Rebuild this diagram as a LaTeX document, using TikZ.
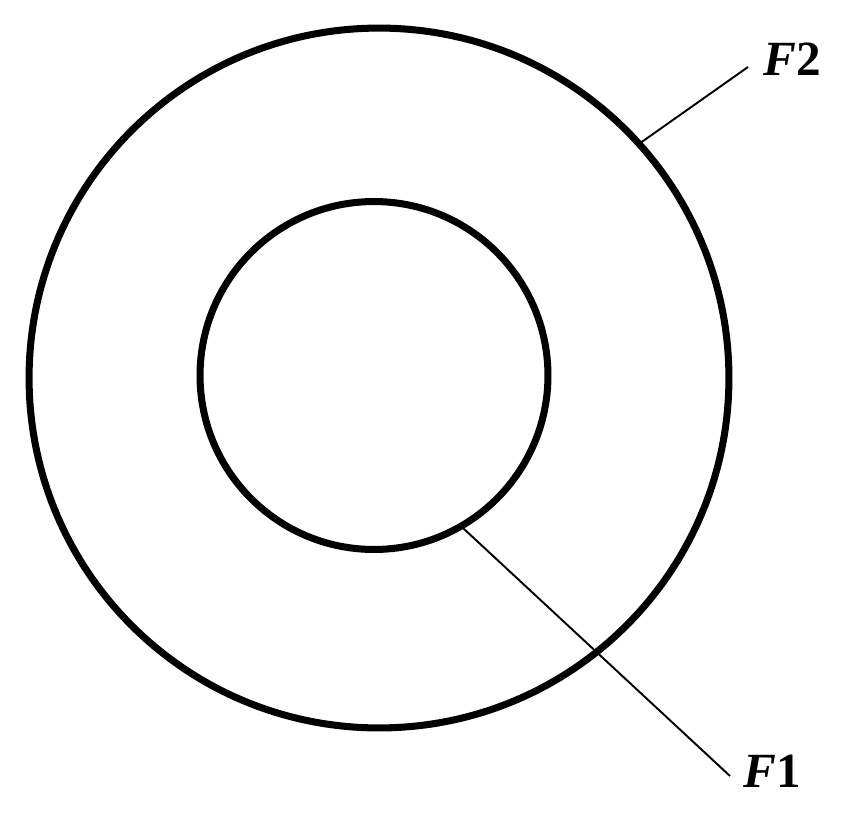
\documentclass[tikz,border=0pt]{standalone}
\usepackage{fontspec}
\setmainfont{Liberation Serif}
\usepackage{tikz}

\tikzset{
  ring/.style={draw, circle, line width=4pt, inner sep=0pt, outer sep=0pt},
  leader/.style={line width=1.1pt},
  flabel/.style={inner sep=0pt, font=\fontsize{28}{30}\selectfont\bfseries}
}

\begin{document}
\begin{tikzpicture}[x=0.02cm, y=-0.02cm]
         \useasboundingbox (0,0) rectangle (848,812);
         \node (outer) [ring, minimum size=14cm] at (379, 378) {};
         \node (inner) [ring, minimum size=6.96cm] at (374, 375.5) {};
         \node (F2) [flabel, anchor=base west] at (763, 75) {\textit{F}2};
         \node (F1) [flabel, anchor=base west] at (743, 787) {\textit{F}1};
         \coordinate (F2end) at (748, 67);
         \coordinate (F1end) at (730, 776);
         \draw [leader] (outer.42) -- (F2end);
         \draw [leader] (inner.-60) -- (F1end);
\end{tikzpicture}
\end{document}
